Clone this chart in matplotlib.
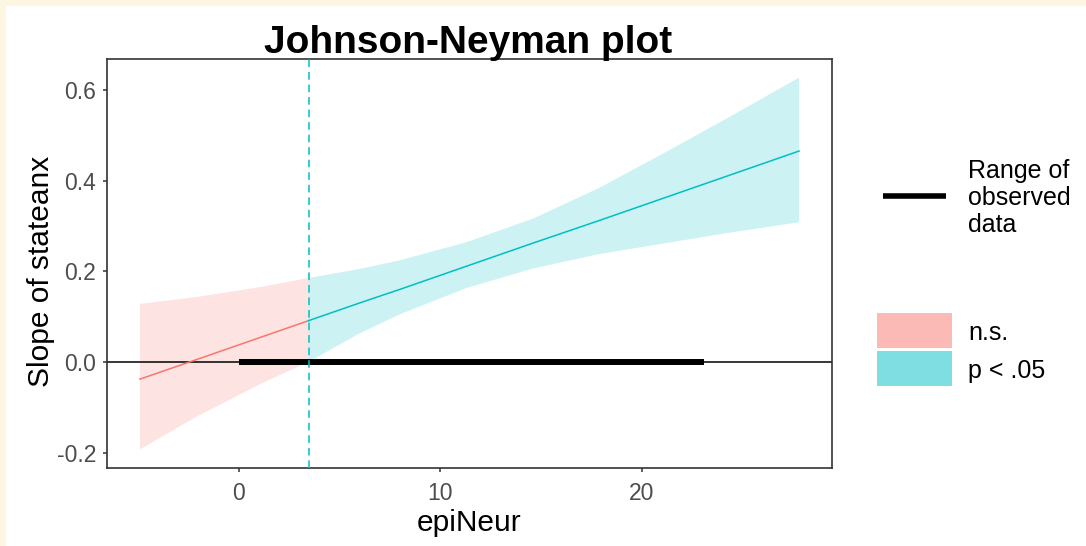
import matplotlib
matplotlib.use("Agg")
import matplotlib.pyplot as plt
from matplotlib.patches import Rectangle
from matplotlib.lines import Line2D

plt.rcParams['font.family'] = ['Liberation Sans', 'DejaVu Sans']

# conditional slope of stateanx across epiNeur, with 95% band
epi_neur = [-4.9, -2.1, 1.2, 3.47, 6.0, 8.0, 11.3, 14.6, 17.9, 21.2, 24.5, 27.8]
slope_est = [-0.038, 0.005, 0.056, 0.091, 0.130, 0.160, 0.211, 0.262, 0.312, 0.363, 0.414, 0.465]
ci_upper = [0.128, 0.143, 0.166, 0.185, 0.205, 0.224, 0.264, 0.316, 0.384, 0.463, 0.544, 0.627]
ci_lower = [-0.193, -0.121, -0.046, 0.000, 0.063, 0.105, 0.163, 0.206, 0.238, 0.262, 0.286, 0.308]
jn_point = 3.47
observed_range = [0, 23.1]

x_ticks = [0, 10, 20]
y_ticks = [-0.2, 0.0, 0.2, 0.4, 0.6]

RED = '#F8766D'
CYAN = '#00BFC4'
W, H = 1086, 546

def fx(px):
    return px / W

def fy(py):
    return 1 - py / H

fig = plt.figure(figsize=(W / 100, H / 100), dpi=100, facecolor='#FDF6E3')
fig.patches.append(Rectangle((fx(6), 0), 1, fy(6), transform=fig.transFigure,
                             facecolor='white', edgecolor='none', zorder=-5))

ax = fig.add_axes([fx(107), fy(468), fx(832) - fx(107), fy(59) - fy(468)])

# split the curve at the Johnson-Neyman point
ns_idx = [i for i, v in enumerate(epi_neur) if v <= jn_point]
sig_idx = [i for i, v in enumerate(epi_neur) if v >= jn_point]

for idx, col in ((ns_idx, RED), (sig_idx, CYAN)):
    xs = [epi_neur[i] for i in idx]
    ax.fill_between(xs, [ci_lower[i] for i in idx], [ci_upper[i] for i in idx],
                    facecolor=col, alpha=0.2, edgecolor='none', zorder=1)
    ax.plot(xs, [slope_est[i] for i in idx], color=col, lw=1.1, zorder=3)

ax.axhline(0, color='black', lw=1.1, zorder=2)
ax.plot(observed_range, [0, 0], color='black', lw=4.3, solid_capstyle='butt', zorder=4)
ax.axvline(jn_point, color=CYAN, lw=1.1, linestyle=(0, (5, 3.2)), zorder=5)

xmin, xmax = min(epi_neur), max(epi_neur)
ymin, ymax = min(ci_lower), max(ci_upper)
ax.set_xlim(xmin - 0.05 * (xmax - xmin), xmax + 0.05 * (xmax - xmin))
ax.set_ylim(ymin - 0.05 * (ymax - ymin), ymax + 0.05 * (ymax - ymin))

ax.set_xticks(x_ticks)
ax.set_yticks(y_ticks)
ax.set_yticklabels(['%.1f' % v for v in y_ticks])
ax.tick_params(colors='#333333', labelcolor='#4D4D4D', labelsize=16.5,
               length=2.9, width=1.1, pad=5)
ax.tick_params(axis='x', pad=7)
for s in ax.spines.values():
    s.set_color('#333333')
    s.set_linewidth(1.2)

ax.set_xlabel('epiNeur', fontsize=21.5, labelpad=3)
ax.set_ylabel('Slope of stateanx', fontsize=21.5)
ax.yaxis.set_label_coords(-0.072, 0.48)

fig.text(fx(468), fy(53), 'Johnson-Neyman plot', ha='center', va='baseline',
         fontsize=28, fontweight='bold')

# legend: observed range
fig.add_artist(Line2D([fx(883), fx(946)], [fy(196), fy(196)], color='black',
                      lw=4.0, solid_capstyle='butt', transform=fig.transFigure))
fig.text(fx(968), fy(198), 'Range of\nobserved\ndata', ha='left', va='center',
         fontsize=18, linespacing=1.18)

# legend: significance
for top, col, lab in ((313, RED, 'n.s.'), (351, CYAN, 'p < .05')):
    fig.patches.append(Rectangle((fx(877), fy(top + 35)), fx(952) - fx(877), fy(top) - fy(top + 35),
                                 transform=fig.transFigure, facecolor=col, alpha=0.5,
                                 edgecolor='none', zorder=1))
    fig.text(fx(968), fy(top + 20), lab, ha='left', va='center', fontsize=18)

fig.savefig('out.png', dpi=100, facecolor=fig.get_facecolor())
